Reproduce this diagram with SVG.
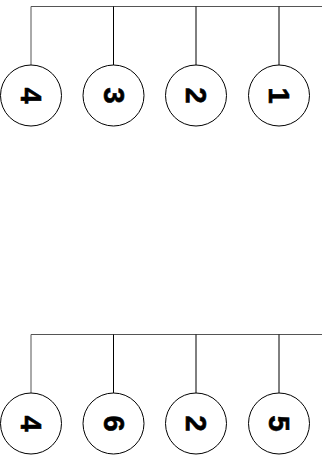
<svg xmlns="http://www.w3.org/2000/svg" width="322" height="455" viewBox="0 0 322 455">
<style>
.c{fill:#fff;stroke:#000;stroke-width:1}
.t{font-family:"Liberation Sans",Arial,sans-serif;font-weight:bold;font-size:29px;text-anchor:middle;dominant-baseline:central;fill:#000;stroke:#000;stroke-width:0.6}
.l{stroke:#555;stroke-width:1;fill:none}
.v{stroke:#000;stroke-width:1;fill:none}
</style>
<rect width="322" height="455" fill="#fff"/>
<g id="connectors">
<path class="l" d="M31 6.5H322M31 6.5V65"/>
<path class="v" d="M113.5 6.5V65M196 6.5V65M279 6.5V65"/>
<path class="l" d="M31 334.5H322M31 334.5V393"/>
<path class="v" d="M113.5 334.5V393M196 334.5V393M279 334.5V393"/>
</g>
<g id="n4a"><circle class="c" cx="31" cy="95.5" r="30.5"/><text class="t" transform="translate(31 95.5) rotate(90)">4</text></g>
<g id="n3"><circle class="c" cx="113.5" cy="95.5" r="30.5"/><text class="t" transform="translate(113.5 95.5) rotate(90)">3</text></g>
<g id="n2a"><circle class="c" cx="196" cy="95.5" r="30.5"/><text class="t" transform="translate(196 95.5) rotate(90)">2</text></g>
<g id="n1"><circle class="c" cx="279" cy="95.5" r="30.5"/><text class="t" transform="translate(279 95.5) rotate(90)">1</text></g>
<g id="n4b"><circle class="c" cx="31" cy="423.5" r="30.5"/><text class="t" transform="translate(31 423.5) rotate(90)">4</text></g>
<g id="n6"><circle class="c" cx="113.5" cy="423.5" r="30.5"/><text class="t" transform="translate(113.5 423.5) rotate(90)">6</text></g>
<g id="n2b"><circle class="c" cx="196" cy="423.5" r="30.5"/><text class="t" transform="translate(196 423.5) rotate(90)">2</text></g>
<g id="n5"><circle class="c" cx="279" cy="423.5" r="30.5"/><text class="t" transform="translate(279 423.5) rotate(90)">5</text></g>
</svg>
